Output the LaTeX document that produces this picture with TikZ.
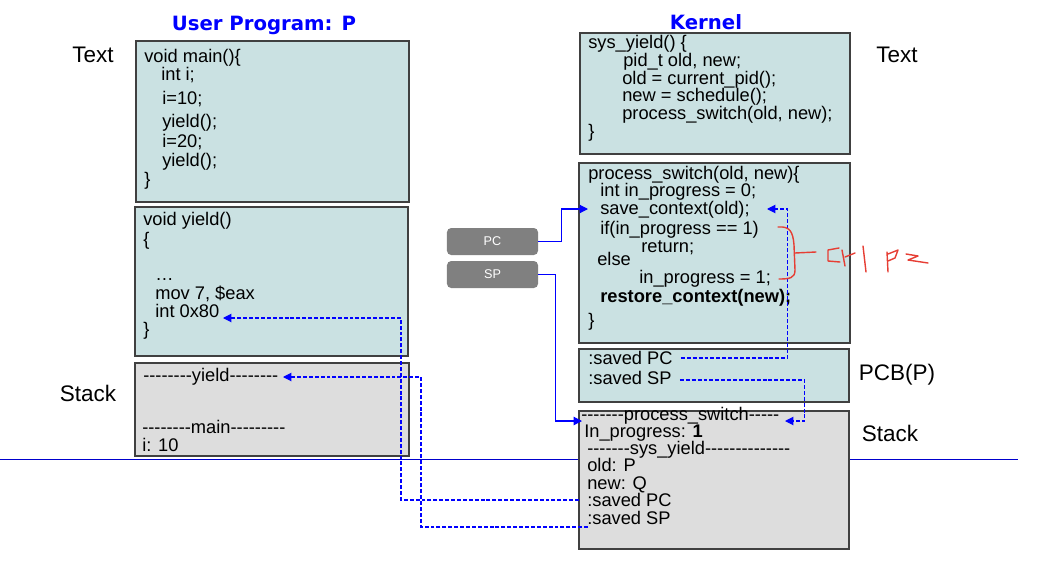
\documentclass[tikz,border=0pt]{standalone}
\usepackage{fontspec}
\setmainfont{Liberation Sans}
\newfontfamily\titlefont{DejaVu Sans}
\usetikzlibrary{arrows.meta}

\definecolor{boxteal}{RGB}{202,225,226}
\definecolor{boxgray}{RGB}{221,221,221}
\definecolor{regfill}{RGB}{128,128,128}
\definecolor{handred}{RGB}{230,62,52}
\definecolor{splitblue}{RGB}{0,0,205}

% a run of plain hyphens (no TeX dash ligatures)
\newcommand\dashrun[1]{\foreach\k in {1,...,#1}{-\kern0pt}}

\tikzset{
  code/.style={anchor=west, inner sep=0pt, text height=8.5pt, text depth=2pt,
               font=\fontsize{13}{13}\selectfont},
  lbl/.style={inner sep=0pt, font=\fontsize{16}{16}\selectfont},
  title/.style={inner sep=0pt, text=blue, font=\titlefont\bfseries\fontsize{14}{14}\selectfont},
  tbox/.style={draw=black!75, line width=0.9pt, fill=boxteal},
  sbox/.style={draw=black!75, line width=0.9pt, fill=boxgray},
  reg/.style={fill=regfill, rounded corners=3pt, text=white, inner sep=0pt,
              minimum width=2.275cm, minimum height=0.675cm,
              font=\fontsize{9}{9}\selectfont},
  link/.style={blue, line width=0.8pt, -{Triangle[length=6pt,width=6pt]}},
  dlink/.style={link, line width=0.75pt, dash pattern=on 2.8pt off 1.4pt},
  handline/.style={handred, line width=1pt, line cap=round, line join=round}
}

\begin{document}
\begin{tikzpicture}[x=0.025cm, y=-0.025cm]
  \useasboundingbox (0,0) rectangle (1058,566);

  %--- titles and side labels ---
  \node[title] (userT) at (264,25) {User Program: P};
  \node[title] (kernT) at (706,22) {Kernel};
  \node[lbl] (textL)  at (93,55)   {Text};
  \node[lbl] (stackL) at (88,393)  {Stack};
  \node[lbl] (textR)  at (897,55)  {Text};
  \node[lbl] (pcbR)   at (897,375) {PCB(P)};
  \node[lbl] (stackR) at (890,433) {Stack};

  %--- user/kernel split ---
  \draw[splitblue, line width=0.6pt] (0,459) -- (1018,459);

  %--- user program boxes ---
  \draw[tbox] (136,41) rectangle (409,202);
  \draw[tbox] (135,207) rectangle (408,356);
  \draw[sbox] (135,363) rectangle (409,456);

  \foreach \x/\y/\t [count=\i] in {
      144/58/{void main()\{}, 161/76/{int i;}, 162/100/{i=10;},
      162/123/{yield();}, 162/143/{i=20;}, 162/162/{yield();}, 144/181/{\}}}
    \node[code] (main\i) at (\x,\y) {\t};

  \foreach \x/\y/\t [count=\i] in {
      143/221/{void yield()}, 143/241/{\{}, 155/276/{…},
      155/295/{mov 7, \$eax}, 155/313/{int 0x80}, 143/331/{\}}}
    \node[code] (yld\i) at (\x,\y) {\t};

  \foreach \x/\y/\t [count=\i] in {
      143/377/{\dashrun{8}yield\dashrun{8}},
      142/429/{\dashrun{8}main\dashrun{9}}, 142/447/{i: 10}}
    \node[code] (ustk\i) at (\x,\y) {\t};

  %--- kernel boxes ---
  \draw[tbox] (580,33) rectangle (850,154);
  \draw[tbox] (579,163) rectangle (850,343);
  \draw[tbox] (579,349) rectangle (849,402);
  \draw[sbox] (579,411) rectangle (849,549);

  \foreach \x/\y/\t [count=\i] in {
      588/44/{sys\_yield() \{}, 623/62/{pid\_t old, new;},
      622/80/{old = current\_pid();}, 622/97/{new = schedule();},
      622/115/{process\_switch(old, new);}, 588/133/{\}}}
    \node[code] (sys\i) at (\x,\y) {\t};

  \foreach \x/\y/\t [count=\i] in {
      588/175/{process\_switch(old, new)\{}, 600/192/{int in\_progress = 0;},
      600/210/{save\_context(old);}, 600/230/{if(in\_progress == 1)},
      641/248/{return;}, 597/261/{else}, 639/279/{in\_progress = 1;},
      600/298/{\bfseries restore\_context(new);}, 588/322/{\}}}
    \node[code] (psw\i) at (\x,\y) {\t};

  \node[code] (pcb1) at (588,360) {:saved PC};
  \node[code] (pcb2) at (588,380) {:saved SP};

  \foreach \x/\y/\t [count=\i] in {
      581/416/{\dashrun{7}process\_switch\dashrun{5}},
      584/433/{In\_progress: \textbf{1}},
      587/450/{\dashrun{7}sys\_yield\dashrun{14}},
      587/467/{old: P}, 587/485/{new: Q},
      587/502/{:saved PC}, 587/520/{:saved SP}}
    \node[code] (kstk\i) at (\x,\y) {\t};

  %--- registers ---
  \node[reg] (pc) at (492.5,241.5) {PC};
  \node[reg] (sp) at (492.5,274.5) {SP};

  %--- arrow ends ---
  \coordinate (savectx)  at (588,209);
  \coordinate (savectxR) at (767,209);
  \coordinate (kstkL)    at (582,421);
  \coordinate (kstkR)    at (785,421);
  \coordinate (int80)    at (223,318);
  \coordinate (yldmark)  at (283,377);

  \draw[link]  (pc.east) -- ++(23,0) |- (savectx);
  \draw[link]  (sp.east) -- ++(17,0) |- (kstkL);
  \draw[dlink] (pcb1.east) ++(8,-2) -- ++(107,0) |- (savectxR);
  \draw[dlink] (pcb2.east) ++(8,0) -- ++(125,0) |- (kstkR);
  \draw[dlink] (kstk6.west) ++(-8,-2) -- ++(-178,0) |- (int80);
  \draw[dlink] (kstk7.west) ++(1,7) -- ++(-167,0) |- (yldmark);

  %--- handwritten note ---
  \draw[handline] (778,227) .. controls (790,226) and (793,232) .. (794,245)
              -- (795,270) .. controls (795,278) and (790,279) .. (779,279);
  \draw[handline] (795,253) -- (816,252);
  \draw[handline] (839,248) -- (828,250) -- (828,261) -- (840,262);
  \draw[handline] (842,250) -- (845,266);
  \draw[handline] (845,257) -- (855,253);
  \draw[handline] (863,246) -- (866,272);
  \draw[handline] (887,252) -- (888,272);
  \draw[handline] (888,254) -- (898,250) -- (895,258) -- (888,261);
  \draw[handline] (906,254) -- (918,256) -- (908,260) -- (928,263);
\end{tikzpicture}
\end{document}
